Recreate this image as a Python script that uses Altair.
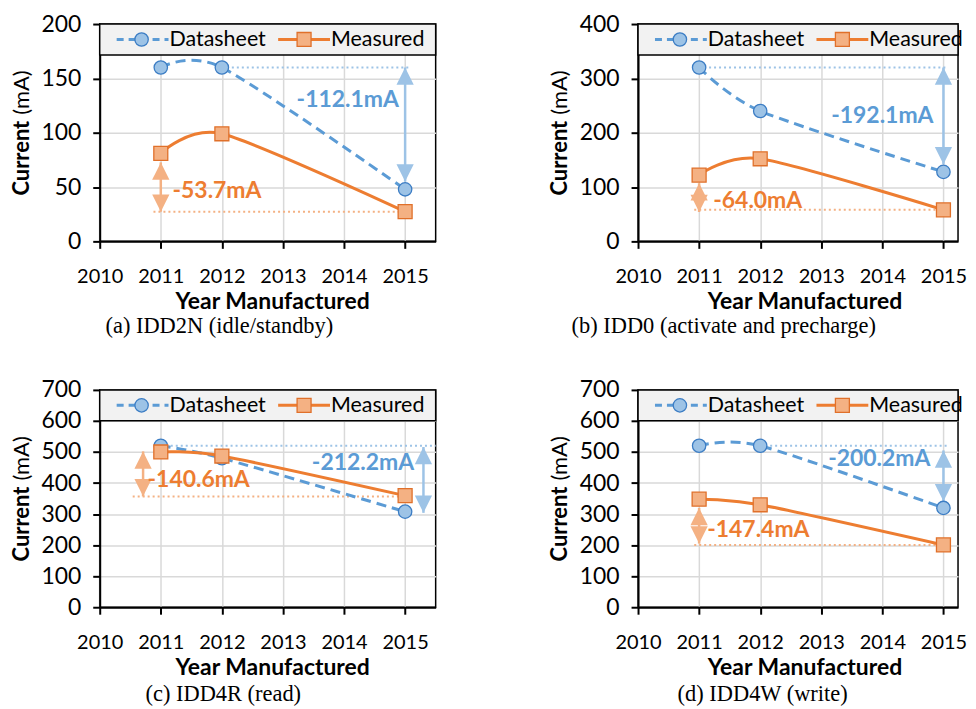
import altair as alt
import pandas as pd

# ---------------- data ----------------
YEARS = [2011, 2012, 2015]
SERIES = ["Datasheet", "Measured"]
X_TICKS = [2010, 2011, 2012, 2013, 2014, 2015]

IDD2N_DATASHEET = [160.0, 160.0, 47.9]
IDD2N_MEASURED = [81.0, 99.0, 27.3]
IDD0_DATASHEET = [320.0, 240.0, 127.9]
IDD0_MEASURED = [122.0, 152.0, 58.0]
IDD4R_DATASHEET = [520.0, 480.0, 307.8]
IDD4R_MEASURED = [500.0, 487.0, 359.4]
IDD4W_DATASHEET = [520.0, 520.0, 319.8]
IDD4W_MEASURED = [348.0, 330.0, 200.6]

DATASHEET = [IDD2N_DATASHEET, IDD0_DATASHEET, IDD4R_DATASHEET, IDD4W_DATASHEET]
MEASURED = [IDD2N_MEASURED, IDD0_MEASURED, IDD4R_MEASURED, IDD4W_MEASURED]

CAPTIONS = ["(a) IDD2N (idle/standby)", "(b) IDD0 (activate and precharge)",
            "(c) IDD4R (read)", "(d) IDD4W (write)"]
Y_MAX = [200, 400, 700, 700]
Y_STEP = [50, 100, 100, 100]

# delta annotations: [datasheet, measured] per panel
DELTA_LABELS = [["-112.1mA", "-53.7mA"], ["-192.1mA", "-64.0mA"],
                ["-212.2mA", "-140.6mA"], ["-200.2mA", "-147.4mA"]]
LABEL_X = [[2014.06, 2011.92], [2014.0, 2011.96], [2014.31, 2011.62], [2013.95, 2011.97]]
LABEL_Y = [[130, 46], [231, 75], [466, 411], [478, 250]]
ARROW_X = [[2015, 2011], [2015, 2011], [2015.3, 2010.71], [2015, 2011]]
ARROW_TOP = [[160, 72.7], [320, 107], [516, 502], [505, 320]]
ARROW_BOTTOM = [[55, 27.3], [142, 54], [304, 357], [341, 205]]
REF_X0 = [[2012, 2010.88], [2011, 2010.92], [2011, 2010.54], [2012, 2010.92]]
REF_X1 = [[2015.08, 2015], [2015.05, 2015], [2015.5, 2015], [2015.07, 2015]]
REF_Y = [[160, 27.3], [320, 58], [520, 357], [520, 200.6]]

# ---------------- styling ----------------
BLUE, BLUE_DARK, BLUE_LIGHT = "#5B9BD5", "#3C7DC4", "#9DC3E6"
ORANGE, ORANGE_DARK, ORANGE_LIGHT = "#ED7D31", "#E0702A", "#F4B183"
LINE_COL = [BLUE, ORANGE]
LIGHT_COL = [BLUE_LIGHT, ORANGE_LIGHT]
FONT = "Lato"
UP = "M0,-1L-1,1L1,1Z"
DOWN = "M0,1L-1,-1L1,-1Z"

H = 218
PX_PER_YEAR = 337 / 5.5
WIDTHS = [337, 321, 337, 321]
TITLE_X = [173, 167, 173, 167]
CAP_X = [120, 86, 124, 125]
CAP_Y = [303, 303, 305, 305]


def panel(i):
    W = WIDTHS[i]
    df = pd.DataFrame({
        "year": YEARS + YEARS,
        "value": DATASHEET[i] + MEASURED[i],
        "series": [SERIES[0]] * 3 + [SERIES[1]] * 3,
    })
    ann = pd.DataFrame({
        "series": SERIES, "label": DELTA_LABELS[i],
        "lx": LABEL_X[i], "ly": LABEL_Y[i],
        "ax": ARROW_X[i], "atop": ARROW_TOP[i], "abot": ARROW_BOTTOM[i],
        "rx0": REF_X0[i], "rx1": REF_X1[i], "ry": REF_Y[i],
    })
    one = pd.DataFrame({"series": SERIES})

    xs = alt.Scale(domain=[2010, 2010 + W / PX_PER_YEAR], nice=False, zero=False)
    ys = alt.Scale(domain=[0, Y_MAX[i]], nice=False)
    xa = alt.Axis(values=X_TICKS, format="d", title="Year Manufactured",
                  titleX=TITLE_X[i], labelPadding=18, titlePadding=4,
                  labelOverlap=False, labelFlush=False)
    ya = alt.Axis(values=list(range(0, Y_MAX[i] + 1, Y_STEP[i])), title=None,
                  labelPadding=12, labelFontSize=23, labelOverlap=False, labelFlush=False)

    def X(f):
        return alt.X(f, type="quantitative", scale=xs, axis=xa)

    def Y(f):
        return alt.Y(f, type="quantitative", scale=ys, axis=ya)

    layers = []
    # dotted reference levels and arrows
    for k, s in enumerate(SERIES):
        a = alt.Chart(ann).transform_filter(alt.datum.series == s)
        c = LIGHT_COL[k]
        layers.append(a.mark_rule(color=c, strokeWidth=2, strokeDash=[2, 3]).encode(
            x=X("rx0"), x2="rx1", y=Y("ry")))
        layers.append(a.mark_rule(color=c, strokeWidth=2.5).encode(
            x=X("ax"), y=Y("atop"), y2="abot"))
        layers.append(a.mark_point(shape=UP, filled=True, color=c, size=300, opacity=1).encode(
            x=X("ax"), y=Y("atop"), yOffset=alt.value(8.7)))
        layers.append(a.mark_point(shape=DOWN, filled=True, color=c, size=300, opacity=1).encode(
            x=X("ax"), y=Y("abot"), yOffset=alt.value(-8.7)))

    # series
    d = alt.Chart(df).transform_filter(alt.datum.series == SERIES[0])
    m = alt.Chart(df).transform_filter(alt.datum.series == SERIES[1])
    layers.append(d.mark_line(interpolate="cardinal", tension=0.2, color=BLUE, strokeWidth=3,
                              strokeDash=[10, 6]).encode(x=X("year"), y=Y("value")))
    layers.append(d.mark_circle(size=180, fill=BLUE_LIGHT, stroke=BLUE_DARK, strokeWidth=1.3,
                                opacity=1).encode(x=X("year"), y=Y("value")))
    layers.append(m.mark_line(interpolate="cardinal", tension=0.2, color=ORANGE,
                              strokeWidth=3).encode(x=X("year"), y=Y("value")))
    layers.append(m.mark_square(size=196, fill=ORANGE_LIGHT, stroke=ORANGE_DARK, strokeWidth=1.3,
                                opacity=1).encode(x=X("year"), y=Y("value")))

    # delta labels
    for k, s in enumerate(SERIES):
        a = alt.Chart(ann).transform_filter(alt.datum.series == s)
        layers.append(a.mark_text(font=FONT, fontSize=23, fontWeight="bold",
                                  color=LINE_COL[k]).encode(
            x=X("lx"), y=Y("ly"), text="label:N"))

    # legend box
    lg = alt.Chart(one)
    l0 = lg.transform_filter(alt.datum.series == SERIES[0])
    l1 = lg.transform_filter(alt.datum.series == SERIES[1])
    layers.append(l0.mark_rect(fill="#F2F2F2", stroke="black", strokeWidth=1.5).encode(
        x=alt.value(0), x2=alt.value(W), y=alt.value(0), y2=alt.value(31)))
    layers.append(l0.mark_rule(color=BLUE, strokeWidth=3, strokeDash=[7, 5]).encode(
        x=alt.value(17), x2=alt.value(69), y=alt.value(15.5)))
    layers.append(l0.mark_circle(size=180, fill=BLUE_LIGHT, stroke=BLUE_DARK, strokeWidth=1.3,
                                 opacity=1).encode(x=alt.value(42), y=alt.value(15.5)))
    layers.append(l0.mark_text(font=FONT, fontSize=21.5, align="left", baseline="middle",
                               color="black").encode(x=alt.value(70), y=alt.value(16),
                                                     text="series:N"))
    layers.append(l1.mark_rule(color=ORANGE, strokeWidth=3).encode(
        x=alt.value(179), x2=alt.value(231), y=alt.value(15.5)))
    layers.append(l1.mark_square(size=196, fill=ORANGE_LIGHT, stroke=ORANGE_DARK, strokeWidth=1.3,
                                 opacity=1).encode(x=alt.value(205), y=alt.value(15.5)))
    layers.append(l1.mark_text(font=FONT, fontSize=21.5, align="left", baseline="middle",
                               color="black").encode(x=alt.value(232), y=alt.value(16),
                                                     text="series:N"))

    # y-axis title (bold + regular parts)
    layers.append(l0.mark_text(font=FONT, fontSize=22, fontWeight="bold", angle=270,
                               align="right", baseline="middle", color="black").encode(
        x=alt.value(-78), y=alt.value(97), text=alt.value("Current")))
    layers.append(l0.mark_text(font=FONT, fontSize=22, angle=270,
                               align="left", baseline="middle", color="black").encode(
        x=alt.value(-78), y=alt.value(91), text=alt.value("(mA)")))

    # caption
    layers.append(l0.mark_text(font="Liberation Serif", fontSize=22.5, align="center",
                               baseline="middle", color="black").encode(
        x=alt.value(CAP_X[i]), y=alt.value(CAP_Y[i]), text=alt.value(CAPTIONS[i])))

    return alt.layer(*layers).properties(width=W, height=H)


chart = alt.concat(
    panel(0), panel(1), panel(2), panel(3),
    columns=2, spacing={"row": 149, "column": 203}, bounds="flush",
).properties(
    padding={"left": 2, "top": 3, "right": 0, "bottom": 0}
).configure_view(
    stroke="black", strokeWidth=1.5
).configure_axis(
    grid=True, gridColor="#D9D9D9", gridWidth=1.5,
    domainColor="black", domainWidth=2,
    tickColor="black", tickWidth=2, tickSize=7,
    labelFont=FONT, labelFontSize=20, labelColor="black",
    titleFont=FONT, titleFontSize=23, titleFontWeight="bold", titleColor="black",
)

chart.save("out.html", embed_options={"renderer": "svg", "actions": False})
